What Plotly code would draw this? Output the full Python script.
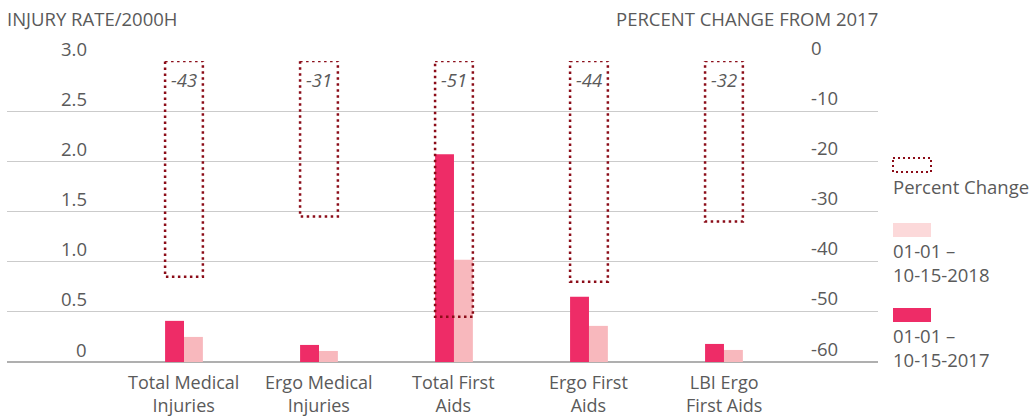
import plotly.graph_objects as go

categories = ["Total Medical<br>Injuries", "Ergo Medical<br>Injuries", "Total First<br>Aids",
              "Ergo First<br>Aids", "LBI Ergo<br>First Aids"]
rate_2017 = [0.41, 0.17, 2.07, 0.65, 0.18]
rate_2018 = [0.25, 0.11, 1.02, 0.36, 0.12]
pct_change = [-43, -31, -51, -44, -32]
left_ticks = [0, 0.5, 1.0, 1.5, 2.0, 2.5, 3.0]
left_tick_text = ["0", "0.5", "1.0", "1.5", "2.0", "2.5", "3.0"]
right_ticks = [0, -10, -20, -30, -40, -50, -60]
legend_labels = ["Percent Change", "01-01 –<br>10-15-2018", "01-01 –<br>10-15-2017"]

DARK = "#EE2C67"
LIGHT = "#F8B8BD"
LIGHT_LEG = "#FCD9DA"
DOT = "#8B0C18"
TXT = "#5A5A5A"
FONT = "Open Sans"
FS = 18.5

W, H = 1032, 418
L, R, T, B = 7, 878, 61, 362


def px_x(p):
    return (p - L) / (R - L)


def px_y(p):
    return (B - p) / (B - T)


xs = list(range(len(categories)))
bw = 0.14

fig = go.Figure()
fig.add_trace(go.Bar(x=xs, y=rate_2017, width=bw, offset=-bw, marker_color=DARK,
                     marker_line_width=0, showlegend=False, name="01-01 – 10-15-2017"))
fig.add_trace(go.Bar(x=xs, y=rate_2018, width=bw, offset=0, marker_color=LIGHT,
                     marker_line_width=0, showlegend=False, name="01-01 – 10-15-2018"))
fig.add_trace(go.Scatter(x=xs, y=pct_change, yaxis="y2", mode="markers",
                         marker=dict(opacity=0), showlegend=False, hoverinfo="skip"))

dash = "2.5px,3.5px"
shapes = []
annotations = []
for i, v in enumerate(pct_change):
    shapes.append(dict(type="rect", xref="x", yref="y2", x0=i - bw, x1=i + bw, y0=0, y1=v,
                       line=dict(color=DOT, width=2.5, dash=dash), fillcolor="rgba(0,0,0,0)",
                       layer="above"))
    annotations.append(dict(x=i, y=0, xref="x", yref="y2", text=str(v), showarrow=False,
                            yanchor="middle", yshift=-18,
                            font=dict(family=FONT, size=FS, color=TXT, style="italic")))
    annotations.append(dict(x=i, y=0, xref="x", yref="y", text=categories[i], showarrow=False,
                            yanchor="middle", yshift=-31, borderpad=0,
                            font=dict(family=FONT, size=18, color=TXT)))

for v, t in zip(left_ticks, left_tick_text):
    annotations.append(dict(x=px_x(89), xref="paper", y=v, yref="y", text=t, showarrow=False,
                            xanchor="right", yanchor="middle", yshift=13,
                            font=dict(family=FONT, size=FS, color=TXT)))
for v in right_ticks:
    annotations.append(dict(x=px_x(809), xref="paper", y=v, yref="y2", text=str(v), showarrow=False,
                            xanchor="left", yanchor="middle", yshift=14,
                            font=dict(family=FONT, size=FS, color=TXT)))

annotations.append(dict(x=px_x(5), xref="paper", y=px_y(18), yref="paper", text="INJURY RATE/2000H",
                        showarrow=False, xanchor="left", yanchor="middle",
                        font=dict(family=FONT, size=FS, color=TXT)))
annotations.append(dict(x=px_x(880), xref="paper", y=px_y(18), yref="paper",
                        text="PERCENT CHANGE FROM 2017",
                        showarrow=False, xanchor="right", yanchor="middle",
                        font=dict(family=FONT, size=FS, color=TXT)))

# legend (manual)
shapes.append(dict(type="rect", xref="paper", yref="paper", x0=px_x(893), x1=px_x(931),
                   y0=px_y(158), y1=px_y(172), line=dict(color=DOT, width=2, dash="2px,3px"),
                   fillcolor="rgba(0,0,0,0)"))
shapes.append(dict(type="rect", xref="paper", yref="paper", x0=px_x(893), x1=px_x(931),
                   y0=px_y(223), y1=px_y(237), line=dict(width=0), fillcolor=LIGHT_LEG))
shapes.append(dict(type="rect", xref="paper", yref="paper", x0=px_x(893), x1=px_x(931),
                   y0=px_y(308), y1=px_y(322), line=dict(width=0), fillcolor=DARK))
for lab, yc in zip(legend_labels, [186, 262, 347]):
    annotations.append(dict(x=px_x(891), xref="paper", y=px_y(yc), yref="paper",
                            text=lab, showarrow=False, xanchor="left", yanchor="middle",
                            align="left",
                            font=dict(family=FONT, size=FS, color=TXT)))

fig.update_layout(
    width=W, height=H,
    margin=dict(l=L, r=W - R, t=T, b=H - B),
    paper_bgcolor="white", plot_bgcolor="white",
    barmode="overlay",
    xaxis=dict(range=[-1.311, 5.141], showticklabels=False, showgrid=False, zeroline=False,
               showline=False, ticks=""),
    yaxis=dict(range=[0, 3.0], tickvals=left_ticks, showticklabels=False, showgrid=True,
               gridcolor="#CBCBCB", gridwidth=1, zeroline=True, zerolinecolor="#AFAFAF",
               zerolinewidth=2, showline=False, ticks=""),
    yaxis2=dict(range=[-60, 0], overlaying="y", side="right", showticklabels=False,
                showgrid=False, zeroline=False, showline=False, ticks=""),
    shapes=shapes,
    annotations=annotations,
    showlegend=False,
)

fig.write_html("out.html", config={"displayModeBar": False},
               post_script="document.body.style.margin='0';document.body.style.padding='0';")
